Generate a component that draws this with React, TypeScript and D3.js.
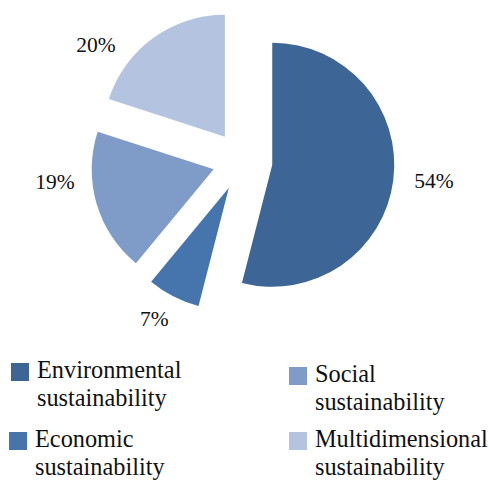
import React from "react";
import * as d3 from "d3";

const categories = [
  "Environmental sustainability",
  "Economic sustainability",
  "Social sustainability",
  "Multidimensional sustainability",
];
const values = [54, 7, 19, 20];
const valueLabels = ["54%", "7%", "19%", "20%"];
const colors = ["#3d6595", "#4675ae", "#7f9cc8", "#b4c3df"];

// legend layout (order as drawn in the legend)
const legendOrder = [0, 2, 1, 3];
const legendPos = [
  { x: 11, y: 363, lines: ["Environmental", "sustainability"] },
  { x: 289, y: 367, lines: ["Social", "sustainability"] },
  { x: 9, y: 432, lines: ["Economic", "sustainability"] },
  { x: 289, y: 432, lines: ["Multidimensional", "sustainability"] },
];
// label nudges relative to the outside-end point of each slice
const labelNudge = [
  [3, -4],
  [-2, -12],
  [-5, -33],
  [-35, 37],
];

const W = 489;
const H = 480;
const cx = 242.5;
const cy = 161;
const R = 122;
const EXPLODE = 30;
const LABEL_R = 160;
const FONT = "'Liberation Serif', 'Times New Roman', serif";

export default function App() {
  const pie = d3
    .pie<number>()
    .sort(null)
    .startAngle(0)
    .endAngle(2 * Math.PI)
    .value((d) => d);
  const arcs = pie(values);
  const arc = d3.arc<d3.PieArcDatum<number>>().innerRadius(0).outerRadius(R);

  return (
    <svg
      width={W}
      height={H}
      style={{ position: "absolute", left: 0, top: 0, background: "#fff", fontFamily: FONT }}
    >
      <g transform={`translate(${cx},${cy})`}>
        {arcs.map((a, i) => {
          const mid = (a.startAngle + a.endAngle) / 2;
          const dx = Math.sin(mid) * EXPLODE;
          const dy = -Math.cos(mid) * EXPLODE;
          const lx = dx + Math.sin(mid) * LABEL_R + labelNudge[i][0];
          const ly = dy - Math.cos(mid) * LABEL_R + labelNudge[i][1];
          return (
            <g key={i}>
              <path
                d={arc(a) || ""}
                transform={`translate(${dx},${dy})`}
                fill={colors[i]}
              />
              <text
                x={lx}
                y={ly + 7.5}
                textAnchor="middle"
                style={{ fontFamily: FONT, fontSize: "21.5px" }}
                fill="#111"
              >
                {valueLabels[i]}
              </text>
            </g>
          );
        })}
      </g>
      {legendOrder.map((ci, k) => {
        const p = legendPos[k];
        return (
          <g key={categories[ci]}>
            <rect x={p.x} y={p.y} width={18} height={18} fill={colors[ci]} />
            {p.lines.map((ln, j) => (
              <text
                key={j}
                x={p.x + 26}
                y={p.y + 14.5 + j * 28}
                style={{ fontFamily: FONT, fontSize: "24.3px" }}
                fill="#111"
              >
                {ln}
              </text>
            ))}
          </g>
        );
      })}
    </svg>
  );
}
